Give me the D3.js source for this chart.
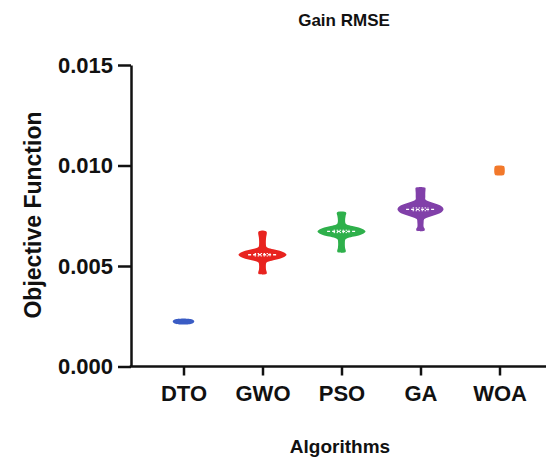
<!DOCTYPE html>
<html>
<head>
<meta charset="utf-8">
<script src="https://cdn.jsdelivr.net/npm/d3@7"></script>
<style>
  body { margin: 0; background: #fff; }
  text { font-family: "Liberation Sans", Arial, sans-serif; font-weight: bold; fill: #111; }
</style>
</head>
<body>
<div id="chart"></div>
<script>
// categories + colours
var algorithms = ["DTO", "GWO", "PSO", "GA", "WOA"];
var colors = ["#3a5cc4", "#e8231f", "#2eb04b", "#8140a9", "#f2782a"];
var medians = [0.00224, 0.00556, 0.00672, 0.00782, 0.00976];
var q1 = [0.00223, 0.00550, 0.00666, 0.00775, 0.00972];
var q3 = [0.00225, 0.00562, 0.00678, 0.00789, 0.00980];
var yTicks = [0.000, 0.005, 0.010, 0.015];

// violin outlines: value along y, relative half-width
var dtoValues = [0.00209, 0.00212, 0.00218, 0.00224, 0.00230, 0.00236, 0.00239];
var dtoDensity = [0, 0.3, 0.42, 0.45, 0.42, 0.3, 0];

var gwoValues = [0.00457, 0.00460, 0.00468, 0.00480, 0.00500, 0.00516, 0.00521, 0.00529, 0.00536, 0.00546, 0.00556, 0.00566, 0.00576, 0.00583, 0.00591, 0.00596, 0.00615, 0.00640, 0.00665, 0.00672, 0.00676];
var gwoDensity = [0, 0.16, 0.18, 0.15, 0.14, 0.16, 0.22, 0.45, 0.72, 0.92, 1, 0.92, 0.72, 0.45, 0.22, 0.16, 0.14, 0.15, 0.18, 0.16, 0];

var psoValues = [0.00565, 0.00568, 0.00576, 0.00590, 0.00615, 0.00632, 0.00637, 0.00645, 0.00652, 0.00662, 0.00672, 0.00682, 0.00692, 0.00699, 0.00707, 0.00712, 0.00728, 0.00748, 0.00762, 0.00768, 0.00771];
var psoDensity = [0, 0.16, 0.18, 0.15, 0.14, 0.16, 0.22, 0.45, 0.72, 0.92, 1, 0.92, 0.72, 0.45, 0.22, 0.17, 0.15, 0.17, 0.2, 0.18, 0];

var gaValues = [0.00672, 0.00675, 0.00683, 0.00695, 0.00715, 0.00732, 0.00737, 0.00747, 0.00757, 0.00770, 0.00782, 0.00795, 0.00807, 0.00817, 0.00827, 0.00832, 0.00845, 0.00865, 0.00880, 0.00889, 0.00893];
var gaDensity = [0, 0.16, 0.18, 0.13, 0.13, 0.15, 0.22, 0.45, 0.7, 0.9, 0.96, 0.9, 0.7, 0.45, 0.24, 0.2, 0.2, 0.2, 0.21, 0.2, 0];

var woaValues = [0.00950, 0.00953, 0.00960, 0.00976, 0.00990, 0.00997, 0.01000];
var woaDensity = [0, 0.18, 0.21, 0.22, 0.21, 0.18, 0];

var profiles = [
  [dtoValues, dtoDensity],
  [gwoValues, gwoDensity],
  [psoValues, psoDensity],
  [gaValues, gaDensity],
  [woaValues, woaDensity]
];

var width = 546, height = 462;
var plotLeft = 131, plotRight = 546, plotTop = 65, plotBottom = 366.5;

var svg = d3.select("#chart").append("svg")
  .attr("width", width)
  .attr("height", height);

var x = d3.scalePoint()
  .domain(algorithms)
  .range([183.5, 499.5]);

var y = d3.scaleLinear()
  .domain([0, 0.015])
  .range([plotBottom, plotTop]);

var w = d3.scaleLinear()
  .domain([0, 1])
  .range([0, 24]);

// violins
profiles.forEach(function(p, i){
  var cx = x(algorithms[i]);
  var pts = p[0].map(function(v, j){ return {v: v, d: p[1][j]}; });
  var area = d3.area()
    .curve(d3.curveCatmullRom)
    .y(function(d){ return y(d.v); })
    .x0(function(d){ return cx - w(d.d); })
    .x1(function(d){ return cx + w(d.d); });

  svg.append("path")
    .attr("d", area(pts))
    .attr("fill", colors[i]);

  if (i > 0 && i < 4) {
    var mw = w(0.6);
    svg.append("line")
      .attr("x1", cx - mw).attr("x2", cx + mw)
      .attr("y1", y(medians[i])).attr("y2", y(medians[i]))
      .attr("stroke", "#fff").attr("stroke-width", 1.3)
      .attr("stroke-dasharray", "3,2");
    [q1[i], q3[i]].forEach(function(q){
      svg.append("line")
        .attr("x1", cx - mw * 0.55).attr("x2", cx + mw * 0.55)
        .attr("y1", y(q)).attr("y2", y(q))
        .attr("stroke", "#fff").attr("stroke-width", 1)
        .attr("stroke-dasharray", "1.5,1.5");
    });
  }
});

// y axis
var yAxis = svg.append("g")
  .attr("transform", "translate(" + plotLeft + ",0)")
  .call(d3.axisLeft(y).tickValues(yTicks).tickFormat(d3.format(".3f")).tickSize(13).tickPadding(5).tickSizeOuter(0));
yAxis.selectAll("line, path").attr("stroke", "#111").attr("stroke-width", 2.5);
yAxis.selectAll("text").style("font-size", "22px").attr("fill", "#111");

// x axis
var xAxis = svg.append("g")
  .attr("transform", "translate(0," + plotBottom + ")")
  .call(d3.axisBottom(x).tickSize(9).tickPadding(10).tickSizeOuter(0));
xAxis.select(".domain").attr("d", "M" + (plotLeft - 1.25) + ",0H" + plotRight);
xAxis.selectAll("line, path").attr("stroke", "#111").attr("stroke-width", 2.5);
xAxis.selectAll("text").style("font-size", "22px").attr("fill", "#111");

// titles
svg.append("text")
  .attr("x", 344).attr("y", 26)
  .attr("text-anchor", "middle")
  .style("font-size", "17px")
  .text("Gain RMSE");

svg.append("text")
  .attr("transform", "translate(41,215) rotate(-90)")
  .attr("text-anchor", "middle")
  .style("font-size", "23px")
  .text("Objective Function");

svg.append("text")
  .attr("x", 340).attr("y", 453)
  .attr("text-anchor", "middle")
  .style("font-size", "19px")
  .text("Algorithms");
</script>
</body>
</html>
